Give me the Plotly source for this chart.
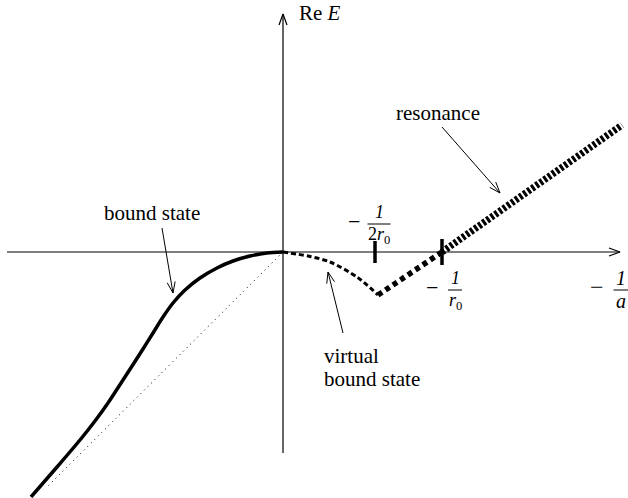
import math
import plotly.graph_objects as go

# Schematic trajectories of Re E versus -1/a (arbitrary units, 1/r0 scale)
bound_x = [0.0, -0.16, -0.33, -0.50, -0.66, -0.83, -0.98, -1.10, -1.20, -1.30, -1.40,
           -1.60, -1.75, -1.88, -2.03, -2.26, -2.52]
bound_y = [0.0, -0.01, -0.04, -0.09, -0.16, -0.26, -0.38, -0.51, -0.65, -0.81, -0.97,
           -1.28, -1.51, -1.69, -1.88, -2.15, -2.45]

asym_x = [0.0, -2.35]
asym_y = [0.0, -2.34]

virtual_x = [0.0, 0.25, 0.47, 0.74, 0.95]
virtual_y = [0.0, -0.04, -0.10, -0.25, -0.43]

rise_x = [0.95, 1.59]
rise_y = [-0.43, 0.0]

resonance_x = [1.59, 3.39]
resonance_y = [0.0, 1.27]

tick_x = [0.92, 1.59]
tick_half = [0.11, 0.13]

x_axis_span = [-2.76, 3.37]
y_axis_span = [-2.01, 2.38]

FONT = "Liberation Serif"
LABEL_SIZE = 21

fig = go.Figure()


def add_line(x, y, width, dash="solid", shape="linear", smoothing=None):
    line = dict(color="black", width=width, dash=dash, shape=shape)
    if smoothing is not None:
        line["smoothing"] = smoothing
    fig.add_trace(go.Scatter(x=x, y=y, mode="lines", hoverinfo="skip", line=line))


def open_head(x0, y0, x1, y1, length=0.11, half=0.04):
    """Open V arrowhead at (x1, y1) pointing along (x0,y0)->(x1,y1)."""
    dx, dy = x1 - x0, y1 - y0
    n = math.hypot(dx, dy)
    ux, uy = dx / n, dy / n
    bx, by = x1 - ux * length, y1 - uy * length
    px, py = -uy * half, ux * half
    return [bx + px, x1, bx - px], [by + py, y1, by - py]


def arrow(x0, y0, x1, y1, width=1):
    add_line([x0, x1], [y0, y1], width)
    hx, hy = open_head(x0, y0, x1, y1)
    add_line(hx, hy, width)


# axes with open arrowheads
arrow(x_axis_span[0], 0, x_axis_span[1], 0, 1.2)
arrow(0, y_axis_span[0], 0, y_axis_span[1], 1.2)

# curves
add_line(asym_x, asym_y, 1, dash="1px,4px")
add_line(bound_x, bound_y, 3.5, shape="spline", smoothing=0.8)
add_line(virtual_x, virtual_y, 3, dash="5px,3px", shape="spline", smoothing=0.8)
add_line(rise_x, rise_y, 5.5, dash="5px,4px")
add_line(resonance_x, resonance_y, 7, dash="3px,2px")

# tick marks at -1/(2r0) and -1/r0
for tx, th in zip(tick_x, tick_half):
    add_line([tx, tx], [th, -th], 3.5)

# label arrows
arrow(-1.21, 0.24, -1.10, -0.41)
arrow(0.60, -0.81, 0.45, -0.20)
arrow(1.59, 1.25, 2.17, 0.59)


def text(x, y, s, size=LABEL_SIZE, xanchor="center"):
    fig.add_annotation(x=x, y=y, text=s, showarrow=False, xanchor=xanchor, yanchor="middle",
                       font=dict(family=FONT, size=size, color="black"))


text(0.14, 2.39, "Re <i>E</i>", xanchor="left")
text(-1.31, 0.39, "bound state")
text(1.55, 1.39, "resonance")
text(0.39, -1.04, "virtual", xanchor="left")
text(0.39, -1.27, "bound state", xanchor="left")


def fraction(xc, yb, num, den, minus_dx, bar_w, size=18):
    """Draw -num/den with the bar centred at (xc, yb)."""
    text(xc - minus_dx, yb + 0.03, "\u2212", size=size + 4)
    text(xc, yb + 0.12, num, size=size)
    text(xc, yb - 0.11, den, size=size)
    add_line([xc - bar_w / 2, xc + bar_w / 2], [yb, yb], 1)


fraction(0.96, 0.28, "<i>1</i>", "2<i>r</i><sub>0</sub>", 0.25, 0.23)
fraction(1.72, -0.38, "<i>1</i>", "<i>r</i><sub>0</sub>", 0.23, 0.14)
fraction(3.38, -0.38, "<i>1</i>", "<i>a</i>", 0.24, 0.15, size=20)

fig.update_layout(
    width=628, height=498,
    margin=dict(l=0, r=0, t=0, b=0),
    paper_bgcolor="white", plot_bgcolor="white",
    showlegend=False,
    xaxis=dict(range=[-2.83, 3.45], visible=False, fixedrange=True),
    yaxis=dict(range=[-2.46, 2.52], visible=False, fixedrange=True),
)

fig.write_html("out.html")
